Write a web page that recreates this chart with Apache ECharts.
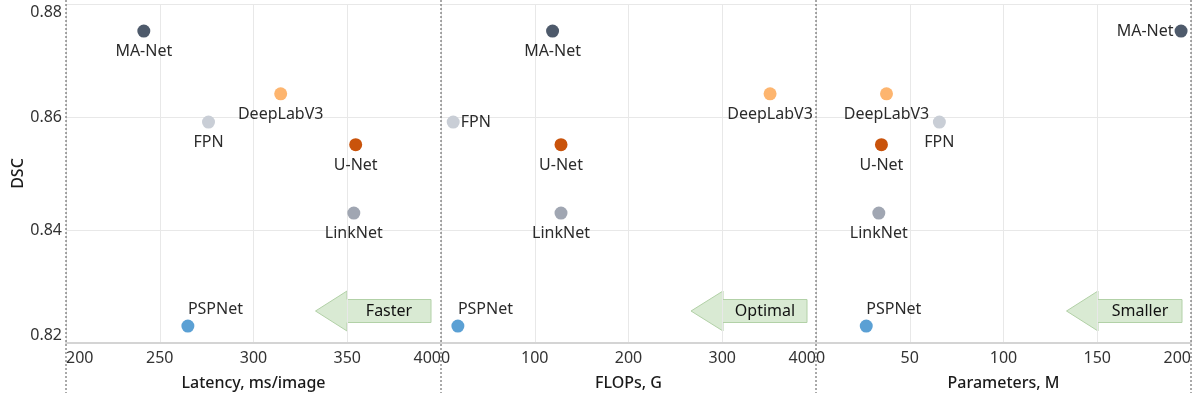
<!DOCTYPE html>
<html>
<head>
<meta charset="utf-8">
<script src="https://cdn.jsdelivr.net/npm/echarts@6/dist/echarts.min.js"></script>
<style>
  html, body { margin: 0; padding: 0; background: #fff; }
  #main { width: 1196px; height: 398px; }
</style>
</head>
<body>
<div id="main"></div>
<script>
// model results
var models   = ['MA-Net', 'DeepLabV3', 'FPN', 'U-Net', 'LinkNet', 'PSPNet'];
var dsc      = [0.8752, 0.8641, 0.8591, 0.8551, 0.8430, 0.8230];
var latency  = [241.5, 314.5, 276, 354.5, 353.5, 265];
var flops    = [119, 351, 13, 128, 128, 18];
var params   = [194.7, 37.6, 65.8, 34.9, 33.5, 26.8];

var xNames   = ['Latency, ms/image', 'FLOPs, G', 'Parameters, M'];
var xMin     = [200, 0, 0];
var xMax     = [400, 400, 200];
var xStep    = [50, 100, 50];
var arrowTxt = ['Faster', 'Optimal', 'Smaller'];

var colors = {
    'MA-Net': '#4e5a6b',
    'DeepLabV3': '#fdb56f',
    'FPN': '#c9ced6',
    'U-Net': '#c9530b',
    'LinkNet': '#a0a6b2',
    'PSPNet': '#5ba0d4'
};
// label placement per panel
var labelPos = [
    {'PSPNet': 'top'},
    {'PSPNet': 'top', 'FPN': 'right'},
    {'PSPNet': 'top', 'MA-Net': 'left'}
];

var panelLeft = [66, 441, 816];
var panelW = 375;
var fontFam = '"Noto Sans", "DejaVu Sans", sans-serif';

var chart = echarts.init(document.getElementById('main'));

var grids = [], xAxes = [], yAxes = [], series = [], graphics = [];
var xVals = [latency, flops, params];

for (var i = 0; i < 3; i++) {
    grids.push({
        left: panelLeft[i], width: panelW, top: 4, height: 339,
        outerBoundsMode: 'none', containLabel: false
    });
    xAxes.push({
        type: 'value', gridIndex: i,
        min: xMin[i], max: xMax[i], interval: xStep[i],
        name: xNames[i], nameLocation: 'middle', nameGap: 32,
        nameTextStyle: {fontFamily: fontFam, fontSize: 16, color: '#1a1a1a', fontWeight: 500},
        axisLine: {show: true, lineStyle: {color: '#d4d4d4', width: 2}},
        axisTick: {show: false},
        axisLabel: {
            fontFamily: fontFam, fontSize: 16, color: '#333', margin: 7,
            showMinLabel: true, showMaxLabel: true,
            alignMinLabel: 'left', alignMaxLabel: 'right'
        },
        splitLine: {show: true, lineStyle: {color: '#e8e8e8', width: 1}}
    });
    yAxes.push({
        type: 'value', gridIndex: i,
        min: 0.82, max: 0.88, interval: 0.02,
        name: i === 0 ? 'DSC' : '', nameLocation: 'middle', nameGap: 40,
        nameTextStyle: {fontFamily: fontFam, fontSize: 16, color: '#1a1a1a', fontWeight: 500},
        axisLine: {show: false},
        axisTick: {show: false},
        axisLabel: {
            show: i === 0,
            fontFamily: fontFam, fontSize: 16, color: '#333', margin: 4,
            formatter: function (v) { return v.toFixed(2); },
            showMinLabel: true, showMaxLabel: true,
            verticalAlignMinLabel: 'bottom', verticalAlignMaxLabel: 'top'
        },
        splitLine: {show: true, lineStyle: {color: '#e8e8e8', width: 1}}
    });

    var pts = models.map(function (m, k) {
        var pos = labelPos[i][m] || 'bottom';
        var lab = {position: pos, distance: pos === 'bottom' ? 6 : 1};
        if (m === 'PSPNet') {
            lab.align = 'left';
            lab.distance = 2;
        }
        return {
            name: m,
            value: [xVals[i][k], dsc[k]],
            itemStyle: {color: colors[m], opacity: 1},
            label: lab
        };
    });
    series.push({
        type: 'scatter',
        xAxisIndex: i, yAxisIndex: i,
        symbolSize: 13,
        data: pts,
        label: {
            show: true,
            formatter: '{b}',
            fontFamily: fontFam, fontSize: 16, color: '#2b2b2b'
        },
        emphasis: {disabled: true}
    });
}

// arrows (annotation shapes), pixel positions within each panel
var arrowGeom = [
    {tip: 315.5, back: 347, end: 431},
    {tip: 691, back: 723, end: 807},
    {tip: 1066.5, back: 1098, end: 1182}
];
arrowGeom.forEach(function (a, i) {
    graphics.push({
        type: 'polygon',
        shape: {points: [
            [a.tip, 311], [a.back, 291], [a.back, 299.5], [a.end, 299.5],
            [a.end, 322.5], [a.back, 322.5], [a.back, 331]
        ]},
        style: {fill: '#d9ead3', stroke: '#b2d1a7', lineWidth: 1},
        silent: true
    });
    graphics.push({
        type: 'text',
        x: (a.back + a.end) / 2, y: 311,
        style: {
            text: arrowTxt[i], fontFamily: fontFam, fontSize: 16,
            fill: '#111', align: 'center', verticalAlign: 'middle'
        },
        silent: true
    });
});

// dotted panel separators
[66, 441, 816, 1191].forEach(function (x) {
    graphics.push({
        type: 'line',
        shape: {x1: x, y1: 0, x2: x, y2: 393},
        style: {stroke: '#555', lineWidth: 1, lineDash: [2, 2]},
        silent: true,
        z: 10
    });
});

chart.setOption({
    backgroundColor: '#fff',
    animation: false,
    grid: grids,
    xAxis: xAxes,
    yAxis: yAxes,
    series: series,
    graphic: graphics
});
</script>
</body>
</html>
